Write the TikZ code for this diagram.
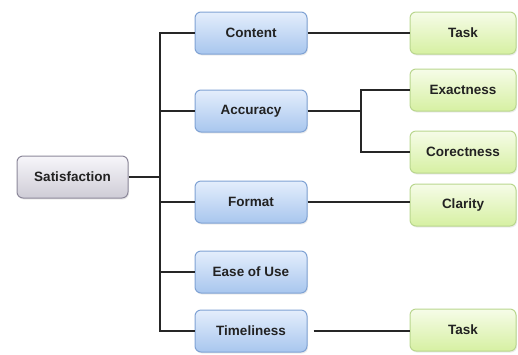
\documentclass[tikz,border=0pt]{standalone}
\usepackage{fontspec}
\setmainfont{Liberation Sans}
\usetikzlibrary{shadows}
\definecolor{bluetop}{HTML}{E4EEFC}
\definecolor{bluebot}{HTML}{A8C6EE}
\definecolor{blueline}{HTML}{7FA2D4}
\definecolor{greentop}{HTML}{F6FCE8}
\definecolor{greenbot}{HTML}{D6F0A2}
\definecolor{greenline}{HTML}{B9D68E}
\definecolor{graytop}{HTML}{F7F6FA}
\definecolor{graybot}{HTML}{CECCD6}
\definecolor{grayline}{HTML}{8C889A}
\definecolor{txt}{HTML}{222222}
\tikzset{
  box/.style={rounded corners=6pt, line width=1pt, inner sep=0pt,
    font=\bfseries\fontsize{13.5}{15}\selectfont, text=txt,
    drop shadow={shadow xshift=1pt, shadow yshift=-1.5pt, opacity=0.15}},
  rootbox/.style={box, draw=grayline, top color=graytop, bottom color=graybot,
    minimum width=111pt, minimum height=42pt},
  midbox/.style={box, draw=blueline, top color=bluetop, bottom color=bluebot,
    minimum width=112pt, minimum height=42pt},
  leafbox/.style={box, draw=greenline, top color=greentop, bottom color=greenbot,
    minimum width=106pt, minimum height=42pt},
  conn/.style={line width=2pt, draw=black!85}
}
\begin{document}
\begin{tikzpicture}[x=1pt,y=-1pt]
\useasboundingbox (0,0) rectangle (518,354);
\node[rootbox] (sat) at (72.5,177) {Satisfaction};
\node[midbox] (content) at (251,33) {Content};
\node[midbox] (accuracy) at (251,111) {Accuracy};
\node[midbox] (format) at (251,202) {Format};
\node[midbox] (ease) at (251,272) {Ease of Use};
\node[midbox] (time) at (251,331) {Timeliness};
\node[leafbox] (task1) at (463,33) {Task};
\node[leafbox] (exact) at (463,90) {Exactness};
\node[leafbox] (corr) at (463,152) {Corectness};
\node[leafbox] (clar) at (463,205) {Clarity};
\node[leafbox] (task2) at (463,330) {Task};
\coordinate (trunk) at (160,177);
\coordinate (split) at (361,111);
\draw[conn] (sat.east) -- (trunk);
\draw[conn] (content.west) -| (trunk) |- (time.west);
\draw[conn] (trunk) |- (accuracy.west);
\draw[conn] (trunk) |- (format.west);
\draw[conn] (trunk) |- (ease.west);
\draw[conn] (content.east) -- (task1.west |- content.east);
\draw[conn] (accuracy.east) -- (split);
\draw[conn] (exact.west) -| (split) |- (corr.west);
\draw[conn] (format.east) -- (clar.west |- format.east);
\draw[conn] ([xshift=6pt]time.east) -- (task2.west |- time.east);
\end{tikzpicture}
\end{document}
